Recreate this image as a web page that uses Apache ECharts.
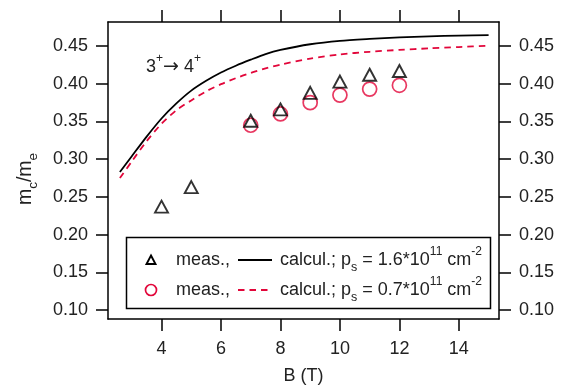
<!DOCTYPE html>
<html>
<head>
<meta charset="utf-8">
<script src="https://cdn.jsdelivr.net/npm/echarts@6/dist/echarts.min.js"></script>
<style>
  html, body { margin: 0; padding: 0; background: #fff; }
  #chart { width: 568px; height: 386px; }
</style>
</head>
<body>
<div id="chart"></div>
<script>
// Measured cyclotron masses (B in tesla, m_c/m_e)
const fieldHigh = [4, 5, 7, 8, 9, 10, 11, 12];
const massHigh = [0.237, 0.263, 0.351, 0.366, 0.388, 0.403, 0.412, 0.417];
const fieldLow = [7, 8, 9, 10, 11, 12];
const massLow = [0.345, 0.360, 0.375, 0.385, 0.393, 0.398];

// Calculated 3+ -> 4+ transition masses
const calcField = [2.6, 3.0, 3.5, 4.0, 4.5, 5.0, 5.5, 6.0, 6.5, 7.0, 7.5, 8.0, 9.0, 10.0, 11.0, 12.0, 13.0, 14.0, 15.0];
const calcMassHigh = [0.283, 0.304, 0.330, 0.354, 0.374, 0.391, 0.404, 0.415, 0.424, 0.432, 0.4395, 0.445,
                      0.4525, 0.457, 0.4595, 0.4615, 0.463, 0.464, 0.4646];
const calcMassLow = [0.275, 0.297, 0.324, 0.347, 0.365, 0.378, 0.390, 0.3995, 0.4075, 0.4145, 0.4205, 0.4255,
                     0.4335, 0.439, 0.4425, 0.445, 0.447, 0.4488, 0.4504];

// Tick labels
const xTicks = [4, 6, 8, 10, 12, 14];
const yTicks = [0.10, 0.15, 0.20, 0.25, 0.30, 0.35, 0.40, 0.45];

const FONT = 'Liberation Sans, Arial, Helvetica, sans-serif';
const TEXT = '#222';
const RED = '#e2063a';
const FS = 18;

const pair = (xs, ys) => xs.map((x, i) => [x, ys[i]]);

const lineAxis = { show: true, onZero: false, lineStyle: { color: '#000', width: 1.5 } };
const tickStyle = { color: '#000', width: 1.5 };

function xAxisDef(pos, showLabel) {
  return {
    type: 'value', position: pos, min: 2.2, max: 15.35,
    axisLine: lineAxis,
    axisTick: { show: true, inside: false, length: 12, customValues: xTicks, lineStyle: tickStyle },
    axisLabel: {
      show: showLabel, customValues: xTicks, margin: 21,
      fontSize: FS, fontFamily: FONT, color: TEXT
    },
    splitLine: { show: false }
  };
}
function yAxisDef(pos) {
  return {
    type: 'value', position: pos, min: 0.088, max: 0.482,
    axisLine: lineAxis,
    axisTick: { show: true, inside: false, length: 12, customValues: yTicks, lineStyle: tickStyle },
    axisLabel: {
      show: true, customValues: yTicks, margin: 20,
      fontSize: FS, fontFamily: FONT, color: TEXT,
      formatter: v => v.toFixed(2)
    },
    splitLine: { show: false }
  };
}

// rich-text helpers
const main = (size) => ({ fontSize: size, fontFamily: FONT, fill: TEXT, lineHeight: 28 });
const sub = { fontSize: 12.5, fontFamily: FONT, fill: TEXT, lineHeight: 13, verticalAlign: 'bottom' };
const sup = { fontSize: 12, fontFamily: FONT, fill: TEXT, lineHeight: 9, verticalAlign: 'top' };
const richSet = (size) => ({ n: main(size), b: sub, p: sup });

const legendLeft = 126.5, legendTop = 237.5, legendW = 364, legendH = 71;
const row1 = 260, row2 = 290;

const option = {
  animation: false,
  backgroundColor: '#fff',
  grid: { left: 108, right: 69, top: 22, bottom: 67, containLabel: false },
  xAxis: [xAxisDef('bottom', true), xAxisDef('top', false)],
  yAxis: [yAxisDef('left'), yAxisDef('right')],
  series: [
    {
      type: 'line', data: pair(calcField, calcMassLow), smooth: 0.25,
      showSymbol: false, symbol: 'none',
      lineStyle: { color: RED, width: 1.8, type: [6.5, 5] }, z: 2
    },
    {
      type: 'line', data: pair(calcField, calcMassHigh), smooth: 0.25,
      showSymbol: false, symbol: 'none',
      lineStyle: { color: '#000', width: 1.8 }, z: 3
    },
    {
      type: 'scatter', data: pair(fieldLow, massLow), symbol: 'circle', symbolSize: 14,
      itemStyle: { color: 'rgba(0,0,0,0)', borderColor: RED, borderWidth: 1.7 }, z: 4
    },
    {
      type: 'scatter', data: pair(fieldHigh, massHigh), symbol: 'triangle', symbolSize: [13, 12],
      itemStyle: { color: 'rgba(0,0,0,0)', borderColor: '#000', borderWidth: 1.9 }, z: 5
    }
  ],
  graphic: [
    // axis titles
    {
      type: 'text', x: 26, y: 179, rotation: Math.PI / 2,
      style: {
        text: '{n|m}{b|c}{n|/m}{b|e}', align: 'center', verticalAlign: 'middle',
        rich: { n: main(19.5), b: { ...sub, fontSize: 13.5 } }
      }
    },
    {
      type: 'text', x: 303.5, y: 376,
      style: {
        text: 'B (T)', align: 'center', verticalAlign: 'middle',
        fontSize: FS, fontFamily: FONT, fill: TEXT
      }
    },
    // transition annotation
    {
      type: 'text', x: 146, y: 67,
      style: {
        text: '{n|3}{p|+}{a|\u2192}{n| 4}{p|+}', align: 'left', verticalAlign: 'middle',
        rich: { ...richSet(FS), a: { fontSize: 19, fontFamily: 'DejaVu Sans, sans-serif', fill: TEXT, lineHeight: 28 } }
      }
    },
    // legend box
    {
      type: 'rect', shape: { x: legendLeft, y: legendTop, width: legendW, height: legendH },
      style: { fill: '#fff', stroke: '#000', lineWidth: 1.5 }, z: 10
    },
    {
      type: 'polygon', shape: { points: [[151, row1 - 4.5], [155.5, row1 + 4], [146.5, row1 + 4]] },
      style: { fill: 'none', stroke: '#000', lineWidth: 1.9 }, z: 11
    },
    {
      type: 'circle', shape: { cx: 151, cy: row2, r: 5.5 },
      style: { fill: 'none', stroke: RED, lineWidth: 1.7 }, z: 11
    },
    {
      type: 'line', shape: { x1: 238, y1: row1, x2: 272, y2: row1 },
      style: { stroke: '#000', lineWidth: 1.8 }, z: 11
    },
    {
      type: 'line', shape: { x1: 238, y1: row2, x2: 272, y2: row2 },
      style: { stroke: RED, lineWidth: 1.8, lineDash: [6.5, 5] }, z: 11
    },
    {
      type: 'text', x: 176, y: row1, z: 11,
      style: { text: 'meas.,', verticalAlign: 'middle', fontSize: FS, fontFamily: FONT, fill: TEXT }
    },
    {
      type: 'text', x: 176, y: row2, z: 11,
      style: { text: 'meas.,', verticalAlign: 'middle', fontSize: FS, fontFamily: FONT, fill: TEXT }
    },
    {
      type: 'text', x: 280, y: row1, z: 11,
      style: {
        text: '{n|calcul.; p}{b|s}{n| = 1.6*10}{p|11}{n| cm}{p|-2}',
        verticalAlign: 'middle', rich: richSet(FS)
      }
    },
    {
      type: 'text', x: 280, y: row2, z: 11,
      style: {
        text: '{n|calcul.; p}{b|s}{n| = 0.7*10}{p|11}{n| cm}{p|-2}',
        verticalAlign: 'middle', rich: richSet(FS)
      }
    }
  ]
};

const chart = echarts.init(document.getElementById('chart'), null, { renderer: 'canvas' });
chart.setOption(option);
</script>
</body>
</html>
